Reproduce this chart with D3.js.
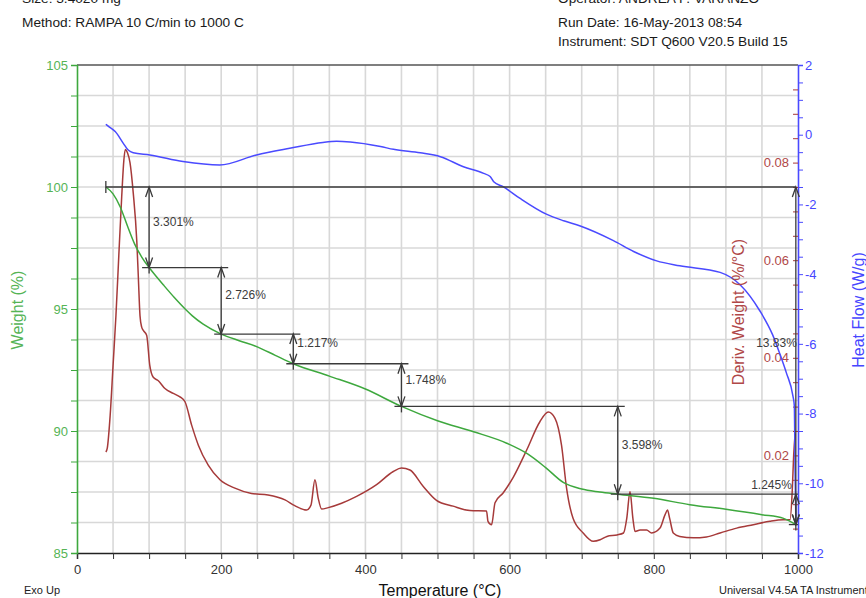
<!DOCTYPE html>
<html>
<head>
<meta charset="utf-8">
<script src="https://cdn.jsdelivr.net/npm/d3@7/dist/d3.min.js"></script>
<style>
  html, body { margin: 0; padding: 0; background: #fff; }
  svg { display: block; font-family: "Liberation Sans", Arial, sans-serif; }
</style>
</head>
<body>
<svg id="chart" width="866" height="598"></svg>
<script>
// ---- TGA / DSC run: weight, derivative weight and heat flow vs temperature ----

const weightTemp = [40, 50, 60, 70, 80, 90, 100, 110, 120, 135, 150, 160, 175, 200, 225, 250, 275, 300, 350, 400, 450,
  500, 550, 596, 625, 650, 675, 700, 725, 750, 800, 850, 900, 950, 980, 997];
const weightPct = [100, 99.72, 99.18, 98.40, 97.66, 97.12, 96.699, 96.33, 95.98, 95.47, 95.0, 94.72, 94.38, 93.973, 93.70, 93.45, 93.10, 92.756, 92.25, 91.72, 91.008,
  90.42, 89.97, 89.50, 89.06, 88.50, 87.88, 87.62, 87.50, 87.41, 87.24, 86.98, 86.79, 86.57, 86.42, 86.165];

const heatTemp = [40, 45, 53, 64, 71, 78, 101, 147, 198, 249, 295, 341, 360, 379, 421, 439, 476, 504, 536, 564, 573, 578,
  591, 614, 651, 675, 698, 744, 772, 804, 836, 892, 920, 947, 965, 975, 984, 993, 995, 996, 997];
const heatFlow = [0.30, 0.22, 0.09, -0.24, -0.44, -0.52, -0.58, -0.77, -0.87, -0.58, -0.39, -0.22, -0.19, -0.21, -0.34, -0.42, -0.52, -0.63, -0.92, -1.11, -1.20, -1.35,
  -1.49, -1.82, -2.28, -2.47, -2.62, -3.04, -3.35, -3.62, -3.76, -3.95, -4.31, -5.05, -5.75, -6.30, -6.84, -7.50, -7.80, -9.70, -11.0];

const derivTemp = [40, 42, 46, 50, 54, 58, 62, 65, 67, 70, 73.5, 78, 83, 85, 87.4, 89.7, 92, 96.6, 101, 105.8, 112.8, 122, 133.6,
  142.8, 149.8, 159, 168.3, 182, 198.3, 219, 242, 265, 288.5, 302, 318.5, 324.5, 330, 334.6, 339.3, 348.5, 367, 387.8, 415.5,
  438.7, 450, 461.8, 480, 498.6, 521.7, 545, 568, 570, 575, 579.8, 591, 605, 623.7, 642, 653.6, 663, 672, 679, 688, 702, 716,
  725.6, 735, 749, 758, 762.5, 767, 771, 774, 781, 790, 797, 808.6, 815.5, 819, 822, 827, 836, 855, 873, 892, 915, 938, 961,
  979.6, 989, 992, 994, 996];
const derivWeight = [0.0207, 0.0215, 0.0282, 0.0384, 0.0486, 0.0610, 0.0730, 0.0805, 0.0827, 0.0820, 0.0800, 0.0738, 0.0637, 0.0568, 0.0486, 0.0463, 0.0456, 0.0446, 0.0384, 0.0360, 0.0353, 0.0337, 0.0327,
  0.0320, 0.0310, 0.0262, 0.0221, 0.0180, 0.0150, 0.0133, 0.0122, 0.0119, 0.0109, 0.0097, 0.0088, 0.0098, 0.0150, 0.0112, 0.0090, 0.0093, 0.0102, 0.0116, 0.0140,
  0.0167, 0.0174, 0.0170, 0.0137, 0.0108, 0.0096, 0.0087, 0.0086, 0.0065, 0.0058, 0.0103, 0.0123, 0.0155, 0.0211, 0.0269, 0.0289, 0.0276, 0.0221, 0.0133, 0.0071, 0.0041, 0.0024,
  0.0027, 0.0034, 0.0037, 0.0041, 0.0071, 0.0126, 0.0071, 0.0044, 0.0047, 0.0047, 0.0041, 0.0051, 0.0078, 0.0088, 0.0071, 0.0041, 0.0034, 0.0031, 0.0033, 0.0041, 0.0051, 0.0058, 0.0065,
  0.0068, 0.0068, 0.0127, 0.0200, 0.0245];

// Weight-loss steps: analysis temperatures and the loss (%) measured in each interval
const stepTemp = [40, 100, 200, 300, 450, 750, 997];
const stepLoss = [3.301, 2.726, 1.217, 1.748, 3.598, 1.245];

// Axis ticks
const tempLabels = [0, 200, 400, 600, 800, 1000];
const weightLabels = [85, 90, 95, 100, 105];
const derivLabels = [0.02, 0.04, 0.06, 0.08];
const heatLabels = [2, 0, -2, -4, -6, -8, -10, -12];

// Header / footer text
const headerLeft = ["Size: 3.4020 mg", "Method: RAMPA 10 C/min to 1000 C"];
const headerRight = ["Operator: ANDREA P. VARANZO", "Run Date: 16-May-2013 08:54", "Instrument: SDT Q600 V20.5 Build 15"];

// ---- layout ----
const L = 77, R = 798, T = 65, B = 553;
const C = {
  green: "#3ea83e", greenText: "#55b455", red: "#a63a3a", redText: "#b04848",
  blue: "#4a4aff", blueText: "#4646ff", grid: "#d8d8d8", ink: "#3a3a3a"
};

const svg = d3.select("#chart");
const x = d3.scaleLinear().domain([0, 1000]).range([L, R]);
const yW = d3.scaleLinear().domain([85, 105]).range([B, T]);
const yD = d3.scaleLinear().domain([0, 0.1]).range([B, T]);
const yH = d3.scaleLinear().domain([-12, 2]).range([B, T]);

// grid
const grid = svg.append("g");
grid.selectAll(".gv").data(d3.range(50, 1000, 50)).join("line")
  .attr("x1", d => x(d)).attr("x2", d => x(d)).attr("y1", T).attr("y2", B)
  .attr("stroke", C.grid).attr("stroke-width", 1.6);
grid.selectAll(".gh").data(d3.range(85 + 1.25, 105, 1.25)).join("line")
  .attr("x1", L).attr("x2", R).attr("y1", d => yW(d)).attr("y2", d => yW(d))
  .attr("stroke", C.grid).attr("stroke-width", 1.6);

// top frame line
svg.append("line").attr("x1", L).attr("x2", R).attr("y1", T).attr("y2", T)
  .attr("stroke", "#555").attr("stroke-width", 1.4);

// bottom (temperature) axis
const xAxis = svg.append("g").attr("transform", `translate(0,${B})`)
  .call(d3.axisBottom(x).tickValues(d3.range(0, 1001, 50)).tickSize(6)
    .tickFormat(d => tempLabels.includes(d) ? d : ""));
xAxis.select(".domain").attr("stroke", "#222").attr("stroke-width", 1.5);
xAxis.selectAll(".tick line").attr("stroke", "#333");
xAxis.selectAll("text").attr("font-size", 13).attr("fill", "#333").attr("dy", "0.9em")
  .attr("font-family", "Liberation Sans, Arial, sans-serif");

// left (weight) axis
const wAxis = svg.append("g").attr("transform", `translate(${L},0)`)
  .call(d3.axisLeft(yW).tickValues(d3.range(85, 105.01, 1.25)).tickSize(6)
    .tickFormat(d => weightLabels.includes(d) ? d : ""));
wAxis.select(".domain").attr("stroke", C.green).attr("stroke-width", 1.6);
wAxis.selectAll(".tick line").attr("stroke", C.green);
wAxis.selectAll("text").attr("font-size", 13).attr("fill", C.greenText)
  .attr("font-family", "Liberation Sans, Arial, sans-serif");

// right axes: heat flow ticks outside, derivative ticks inside
const hAxis = svg.append("g").attr("transform", `translate(${R},0)`)
  .call(d3.axisRight(yH).tickValues(d3.range(-12, 2.01, 0.5)).tickSize(5)
    .tickFormat(d => heatLabels.includes(d) ? String(d) : ""));
hAxis.select(".domain").attr("stroke", C.blue).attr("stroke-width", 1.6);
hAxis.selectAll(".tick line").attr("stroke", C.blue);
hAxis.selectAll("text").attr("font-size", 13).attr("fill", C.blueText).attr("x", 7)
  .attr("font-family", "Liberation Sans, Arial, sans-serif");

const dAxis = svg.append("g").attr("transform", `translate(${R},0)`)
  .call(d3.axisLeft(yD).tickValues(d3.range(0.005, 0.1, 0.005)).tickSize(5)
    .tickFormat(d => derivLabels.some(v => Math.abs(v - d) < 1e-9) ? d3.format(".2f")(d) : ""));
dAxis.select(".domain").remove();
dAxis.selectAll(".tick line").attr("stroke", C.red);
dAxis.selectAll("text").attr("font-size", 13).attr("fill", C.redText).attr("x", -9)
  .attr("font-family", "Liberation Sans, Arial, sans-serif");

// ---- curves ----
const plot = svg.append("g");
function drawCurve(xs, ys, yScale, color) {
  const pts = xs.map((t, i) => [t, ys[i]]);
  plot.append("path").datum(pts)
    .attr("fill", "none").attr("stroke", color).attr("stroke-width", 1.5)
    .attr("stroke-linejoin", "round")
    .attr("d", d3.line().x(d => x(d[0])).y(d => yScale(d[1])).curve(d3.curveMonotoneX));
}
drawCurve(derivTemp, derivWeight, yD, C.red);
drawCurve(heatTemp, heatFlow, yH, C.blue);
drawCurve(weightTemp, weightPct, yW, C.green);

// ---- step analysis annotations ----
const stepWeight = [100];
stepLoss.forEach((d, i) => stepWeight.push(+(stepWeight[i] - d).toFixed(3)));
const totalLoss = stepLoss.reduce((a, b) => a + b, 0);
const ann = svg.append("g").attr("stroke", C.ink).attr("stroke-width", 1.3).attr("fill", "none");
const annText = svg.append("g").attr("font-size", 12).attr("fill", "#3c3c3c");

function arrow(xp, y1, y2) {
  ann.append("line").attr("x1", xp).attr("x2", xp).attr("y1", y1).attr("y2", y2);
  ann.append("path").attr("d", `M${xp - 3.5},${y1 + 10}L${xp},${y1}L${xp + 3.5},${y1 + 10}`);
  ann.append("path").attr("d", `M${xp - 3.5},${y2 - 10}L${xp},${y2}L${xp + 3.5},${y2 - 10}`);
}
function hline(x1, x2, w) {
  ann.append("line").attr("x1", x1).attr("x2", Math.min(x2, R)).attr("y1", yW(w)).attr("y2", yW(w));
}
function marker(t, w) {
  ann.append("line").attr("x1", x(t)).attr("x2", x(t)).attr("y1", yW(w) - 6).attr("y2", yW(w) + 6);
}

const xEnd = x(stepTemp[stepTemp.length - 1]);
// reference level at the start of the run
hline(x(stepTemp[0]), xEnd, stepWeight[0]);
marker(stepTemp[0], stepWeight[0]);
for (let i = 0; i < stepLoss.length; i++) {
  const xa = x(stepTemp[i + 1]);
  if (i > 0) hline(x(stepTemp[i]) - 7, xa + 7, stepWeight[i]);
  arrow(xa, yW(stepWeight[i]), yW(stepWeight[i + 1]));
  marker(stepTemp[i + 1], stepWeight[i + 1]);
  const ym = (yW(stepWeight[i]) + yW(stepWeight[i + 1])) / 2;
  const label = stepLoss[i].toFixed(3) + "%";
  if (i < stepLoss.length - 1) {
    annText.append("text").attr("x", xa + 4).attr("y", ym - 1.5).text(label);
  } else {
    annText.append("text").attr("x", xa - 4).attr("y", yW(stepWeight[i]) - 5)
      .attr("text-anchor", "end").text(label);
  }
}
hline(xEnd - 7, xEnd + 7, stepWeight[stepWeight.length - 1]);
// overall loss
arrow(xEnd, yW(stepWeight[0]), yW(stepWeight[stepWeight.length - 1]));
annText.append("text").attr("x", xEnd + 1).attr("y", 347).attr("text-anchor", "end")
  .text((Math.floor(totalLoss * 100 + 1e-6) / 100).toFixed(2) + "%");

// ---- axis titles ----
svg.append("text").attr("transform", `translate(23,310) rotate(-90)`).attr("text-anchor", "middle")
  .attr("font-size", 16).attr("fill", C.greenText).text("Weight (%)");
svg.append("text").attr("transform", `translate(744,312) rotate(-90)`).attr("text-anchor", "middle")
  .attr("font-size", 16).attr("fill", C.redText).text("Deriv. Weight (%/°C)");
svg.append("text").attr("transform", `translate(864,310) rotate(-90)`).attr("text-anchor", "middle")
  .attr("font-size", 16).attr("fill", C.blueText).text("Heat Flow (W/g)");
svg.append("text").attr("x", 440).attr("y", 596).attr("text-anchor", "middle")
  .attr("font-size", 16).attr("fill", "#111").text("Temperature (°C)");

// ---- header and footer ----
const head = svg.append("g").attr("font-size", 13.7).attr("fill", "#1a1a1a");
const headY = [3, 27, 46];
headerLeft.forEach((s, i) => head.append("text").attr("x", 22).attr("y", headY[i]).text(s));
headerRight.forEach((s, i) => head.append("text").attr("x", 558).attr("y", headY[i]).text(s));
svg.append("text").attr("x", 24).attr("y", 594).attr("font-size", 11).attr("fill", "#222").text("Exo Up");
svg.append("text").attr("x", 719).attr("y", 594).attr("font-size", 11).attr("fill", "#222")
  .text("Universal V4.5A TA Instruments");
</script>
</body>
</html>
